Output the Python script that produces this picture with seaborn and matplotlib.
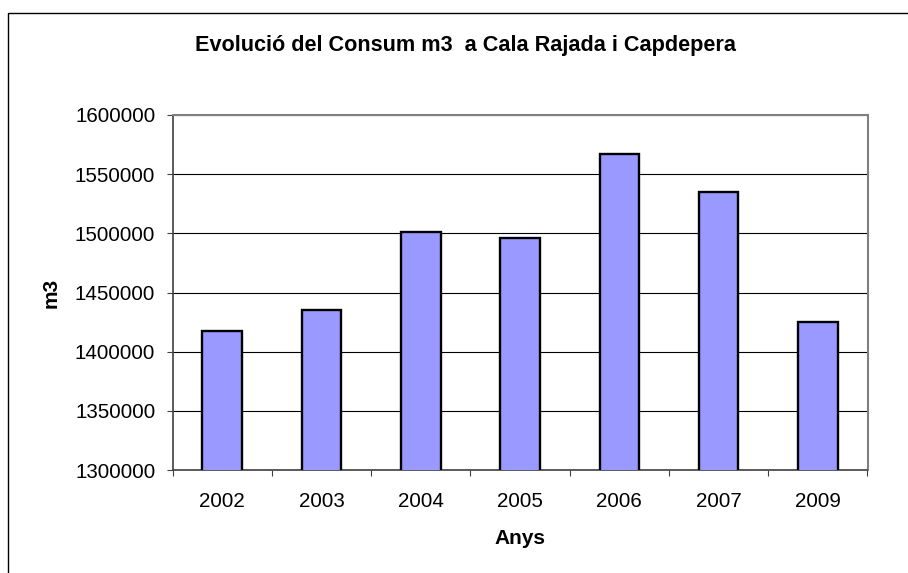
import matplotlib
matplotlib.use("Agg")
import matplotlib.pyplot as plt
import seaborn as sns
import pandas as pd
from matplotlib.patches import Rectangle
from matplotlib.ticker import FixedLocator, FuncFormatter

years = ["2002", "2003", "2004", "2005", "2006", "2007", "2009"]
consum = [1417500, 1435200, 1501000, 1496300, 1567000, 1535000, 1424800]
y_ticks = [1300000, 1350000, 1400000, 1450000, 1500000, 1550000, 1600000]

title = "Evolució del Consum m3  a Cala Rajada i Capdepera"
xlabel = "Anys"
ylabel = "m3"

sns.set_theme(style="white")
plt.rcParams["font.family"] = ["Liberation Sans", "DejaVu Sans"]
plt.rcParams["text.color"] = "black"

W, H = 908, 573
fig = plt.figure(figsize=(W / 100, H / 100), dpi=100)
left, right, top, bottom = 172.7, 867.5, 115, 470
ax = fig.add_axes([left / W, 1 - bottom / H, (right - left) / W, (bottom - top) / H])

df = pd.DataFrame({"year": years, "consum": consum})
sns.barplot(data=df, x="year", y="consum", color="#9999FF", saturation=1,
            width=0.4, edgecolor="black", linewidth=1.7, ax=ax, zorder=3)

ax.set_ylim(y_ticks[0], y_ticks[-1])
ax.set_xlim(-0.5, len(years) - 0.5)
ax.set_yticks(y_ticks)
ax.yaxis.set_major_formatter(FuncFormatter(lambda v, p: f"{int(v)}"))
ax.set_axisbelow(True)
ax.yaxis.grid(True, color="black", linewidth=0.8)
ax.xaxis.grid(False)

ax.tick_params(axis="y", which="major", length=4.5, width=0.8, color="#404040",
               labelsize=14.8, pad=8, direction="out", left=True, labelcolor="black")
ax.tick_params(axis="x", which="major", length=0, labelsize=14.8, pad=16, labelcolor="black")
ax.xaxis.set_minor_locator(FixedLocator([i - 0.5 for i in range(len(years) + 1)]))
ax.tick_params(axis="x", which="minor", length=4, width=0.8, color="#404040",
               direction="out", bottom=True)

ax.set_xlabel("")
ax.set_ylabel("")
for s in ["top", "right"]:
    ax.spines[s].set_color("#808080")
    ax.spines[s].set_linewidth(1.5)
ax.spines["left"].set_color("#404040")
ax.spines["left"].set_linewidth(1.2)
ax.spines["bottom"].set_color("#404040")
ax.spines["bottom"].set_linewidth(1.2)

fig.text(465 / W, 1 - 46 / H, title, ha="center", va="center",
         fontsize=15.6, fontweight="bold", color="black")
fig.text(520 / W, 1 - 539 / H, xlabel, ha="center", va="center",
         fontsize=15, fontweight="bold", color="black")
fig.text(51 / W, 1 - 293 / H, ylabel, ha="center", va="center",
         fontsize=15, fontweight="bold", rotation=90, color="black")

fig.patches.append(Rectangle((8 / W, -0.1), 1.2, 1 - 13 / H + 0.1,
                             transform=fig.transFigure, fill=False,
                             edgecolor="black", linewidth=1.0))

fig.savefig("out.png", dpi=100, facecolor="white")
